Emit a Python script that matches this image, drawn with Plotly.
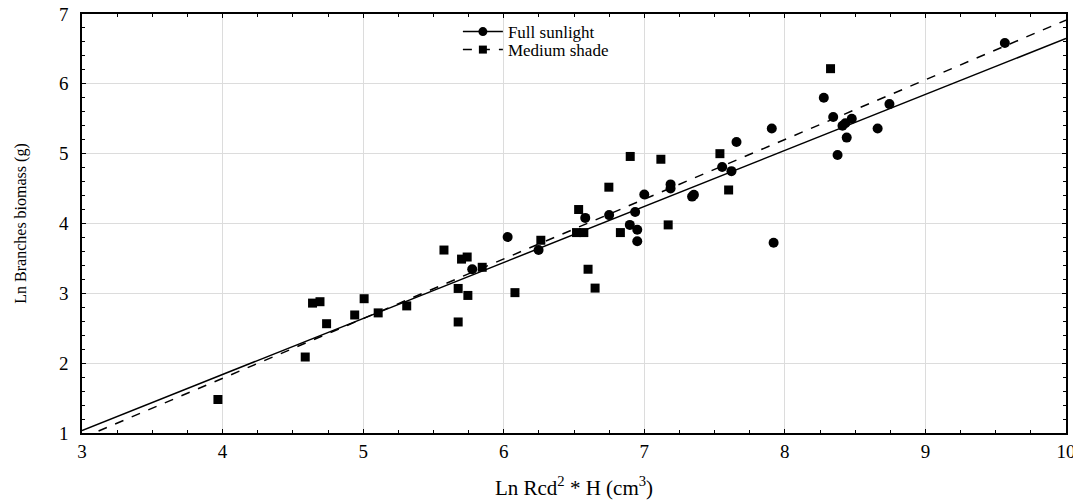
import numpy as np
import plotly.graph_objects as go

# Full sunlight (circles)
sun_x = [5.776, 6.028, 6.248, 6.58, 6.75, 6.897, 6.935, 6.95, 6.95, 7.0, 7.187, 7.187,
         7.34, 7.353, 7.554, 7.62, 7.656, 7.907, 7.92, 8.277, 8.344, 8.41, 8.43, 8.44,
         8.375, 8.476, 8.66, 8.744, 9.565]
sun_y = [3.344, 3.807, 3.62, 4.08, 4.12, 3.98, 4.165, 3.91, 3.745, 4.415, 4.56, 4.50,
         4.385, 4.41, 4.81, 4.75, 5.167, 5.36, 3.725, 5.80, 5.525, 5.40, 5.435, 5.23,
         4.98, 5.50, 5.36, 5.71, 6.585]

# Medium shade (squares)
shade_x = [3.967, 4.588, 4.64, 4.693, 4.74, 4.94, 5.007, 5.107, 5.31, 5.575, 5.676, 5.676,
           5.70, 5.74, 5.745, 5.847, 6.08, 6.264, 6.518, 6.57, 6.533, 6.60, 6.65, 6.748,
           6.83, 6.90, 7.118, 7.17, 7.538, 7.60, 8.325]
shade_y = [1.48, 2.088, 2.86, 2.88, 2.565, 2.69, 2.923, 2.72, 2.82, 3.62, 3.07, 2.59,
           3.49, 3.52, 2.97, 3.373, 3.01, 3.76, 3.87, 3.87, 4.20, 3.345, 3.075, 4.52,
           3.87, 4.96, 4.92, 3.98, 5.00, 4.48, 6.217]

# Regression fits: (intercept, slope)
sun_fit = (-1.37, 0.802)
shade_fit = (-1.637, 0.855)
fit_x = [3, 10]

x_ticks = [3, 4, 5, 6, 7, 8, 9, 10]
y_ticks = [1, 2, 3, 4, 5, 6, 7]

FONT = "Liberation Serif"

fig = go.Figure()
fx = np.array(fit_x, dtype=float)
fig.add_trace(go.Scatter(x=fx, y=sun_fit[0] + sun_fit[1] * fx, mode="lines",
                         line=dict(color="black", width=1.5), showlegend=False))
fig.add_trace(go.Scatter(x=fx, y=shade_fit[0] + shade_fit[1] * fx, mode="lines",
                         line=dict(color="black", width=1.5, dash="dash"), showlegend=False))
fig.add_trace(go.Scatter(x=sun_x, y=sun_y, mode="markers",
                         marker=dict(symbol="circle", size=10, color="black"), showlegend=False))
fig.add_trace(go.Scatter(x=shade_x, y=shade_y, mode="markers",
                         marker=dict(symbol="square", size=9, color="black"), showlegend=False))
# legend entries
fig.add_trace(go.Scatter(x=[None], y=[None], mode="lines+markers", name="Full sunlight",
                         legend="legend",
                         line=dict(color="black", width=1.5),
                         marker=dict(symbol="circle", size=9, color="black")))
fig.add_trace(go.Scatter(x=[None], y=[None], mode="lines+markers", name="Medium shade",
                         legend="legend2",
                         line=dict(color="black", width=1.5, dash="dash"),
                         marker=dict(symbol="square", size=8, color="black")))

axis_common = dict(showline=True, linecolor="black", linewidth=1.5, mirror="ticks",
                   ticks="inside", ticklen=4, tickcolor="black", automargin=False,
                   ticklabeloverflow="allow",
                   showgrid=True, gridcolor="#dcdcdc", gridwidth=1, zeroline=False,
                   tickfont=dict(family=FONT, size=19, color="black"))

fig.update_xaxes(range=[3, 10], tickvals=x_ticks,
                 minor=dict(ticks="inside", ticklen=3, dtick=0.25, tickcolor="black", showgrid=False),
                 title=dict(text="Ln Rcd<sup>2</sup> * H (cm<sup>3</sup>)",
                            font=dict(family=FONT, size=21, color="black"), standoff=20),
                 **axis_common)
fig.update_yaxes(range=[1, 7], tickvals=y_ticks, ticklabelstandoff=8,
                 minor=dict(ticks="inside", ticklen=3, dtick=0.2, tickcolor="black", showgrid=False),
                 title=dict(text="Ln Branches biomass (g)",
                            font=dict(family=FONT, size=16, color="black"), standoff=28),
                 **axis_common)

leg_common = dict(x=0.382, xanchor="left", yanchor="middle", bgcolor="rgba(0,0,0,0)",
                  font=dict(family=FONT, size=17, color="black"), itemwidth=40)

fig.update_layout(
    width=1081, height=501,
    margin=dict(l=74, r=23, t=6, b=76),
    plot_bgcolor="white", paper_bgcolor="white",
    font=dict(family=FONT, color="black"),
    legend=dict(y=0.957, **leg_common),
    legend2=dict(y=0.914, **leg_common),
)

fig.write_html("out.html")
